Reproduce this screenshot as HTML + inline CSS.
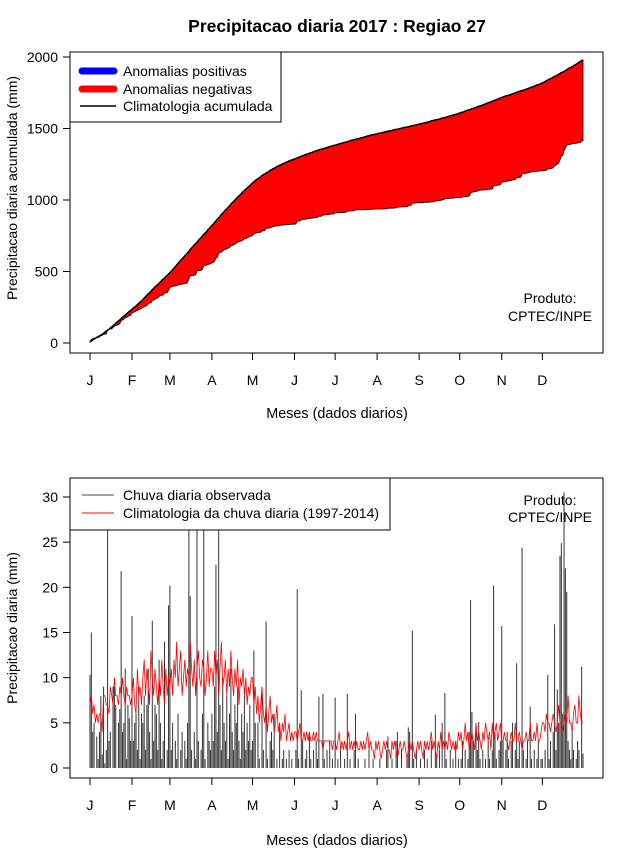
<!DOCTYPE html>
<html><head><meta charset="utf-8"><style>
body{margin:0;background:#fff;}
svg text{font-family:"Liberation Sans",sans-serif;fill:#000;}
</style></head><body>
<svg id="c" width="640" height="850" xmlns="http://www.w3.org/2000/svg"></svg>
<script>
const months=["J","F","M","A","M","J","J","A","S","O","N","D"];
const monthStartDays=[1,32,60,91,121,152,182,213,244,274,305,335];
const topTicks=[0,500,1000,1500,2000];
const botTicks=[0,5,10,15,20,25,30];
const climDaily=[
7,8,6,7,5,6,5,6,6,4,8,8,7,7,6,9,8,7,10,8,8,7,9,8,10,8,7,9,8,8,7,
8,10,7,6,11,8,9,7,10,12,8,11,9,7,13,10,8,11,9,7,10,8,12,9,7,11,8,10,
9,11,8,12,10,14,9,11,13,8,10,12,9,11,10,14,11,9,12,8,11,13,10,9,12,11,8,10,13,9,11,
11,9,13,10,12,8,11,14,9,10,12,8,11,9,13,10,8,11,9,12,7,10,9,11,8,10,7,9,8,10,
10,7,9,6,8,5,7,9,6,5,7,4,6,8,5,6,4,5,7,4,5,3,5,4,6,3,4,5,3,4,3,
4,4,3,4,5,3,3,4,3,4,3,4,3,3,4,3,4,3,3,3,3,2,3,3,3,3,3,3,2,3,
3,2,3,4,2,3,2,3,2,3,4,2,3,2,3,2,3,2,2,3,2,3,2,3,4,2,3,2,2,1,3,
2,3,2,1,2,3,2,3,2,2,1,3,2,3,2,1,2,3,2,2,3,2,1,2,3,2,3,2,1,2,3,
2,3,2,1,3,2,3,2,3,4,2,3,2,1,3,2,4,2,3,2,3,2,4,3,2,3,2,3,2,4,
3,4,2,3,5,3,4,2,3,4,3,2,5,3,4,3,2,4,3,5,4,3,4,2,5,3,4,5,3,4,5,
3,3,4,3,3,2,3,4,3,3,5,3,3,4,3,2,3,3,4,3,3,5,3,3,4,3,5,3,3,4,
5,5,4,6,5,5,4,5,6,5,4,5,7,5,5,4,5,6,5,8,5,5,4,6,7,5,5,8,6,5,5];
const obsDaily=[
10.3,15,4,5,0,3.5,1,4,8,1.5,9,0.5,2,28,3,4,0,9,9,7,0,5,6.5,21.8,4,5,11,1,7,5.5,3,
16.8,3,5,6,2,9,1,6,5,8,2,7,11,4,1,16.3,3,7,6,2,12,5,1,3,14,0,2,18,
20.2,2,5,0,3,1,6,0,2,4,0,3,1,5,28,19,2,0,4,1,28,3,0,2,6,28,1,0,5,3,2,
6,3,9,22.5,4,28,7,2,10,5,3,8,1,6,11,4,2,7,5,9,3,1,6,4,8,2,5,3,7,2,
3,13,5,0,5,1,0,9,2,0,16.2,1,0,3,4,2,6,0,1,0,5,0,1,2,0,1,0,2,0,1,0,
0,2,19.8,1,0,8.6,3,0,1,2,0,4,1,0,2,0,3,1,7.9,0,0,8.2,1,0,2,0,3,0,1,0,
7.8,0,1,0,2,0,0,1,0,8.2,0,1,0,0,2,6,0,1,0,0,0,0,1,0,0,2,0,0,1,0,0,
0,0,1,0,0,0,0,2,3.5,0,0,1,0,0,3,4,0,0,2,0,0,0,1,4.5,4,0,15.2,1,0,2,0,
0,1,0,0,2,0,1,0,0,3,0,0,5.9,1,0,2,0,5,0,8.3,1,0,0,2,0,1,0,3,0,1,
0,1,3,0,2,0,1,4,18.6,6.2,3,0,4,2,5.1,1,0,2,0,1,0,3,1,0,2,20.2,4,1,0,2,3,
15.7,3,0,2,4,1,0,3,5,0,2,11.6,1,3,0,24.4,2,0,1,3,0,6.8,1,0,2,0,1,3,0,1,
1,0,2,0,10.3,1,3,0,4,15.9,2,8.7,5,23.5,24.9,6,30.5,22.1,19.5,3,2,1,4,2,0,1,3,2,0,11.2,1.6];

const NS="http://www.w3.org/2000/svg";
const svg=document.getElementById('c');
function mk(tag,attrs,parent){const e=document.createElementNS(NS,tag);for(const k in attrs)e.setAttribute(k,attrs[k]);(parent||svg).appendChild(e);return e;}
function txt(s,x,y,size,anchor,parent){const t=mk('text',{x:x,y:y,'font-size':size,'text-anchor':anchor||'middle'},parent);t.textContent=s;return t;}
const xDay=d=>90+(d-1)*(493/364);
const yTop=v=>343-v*(286/2000);
const yBot=v=>768-v*(271/30);

const ti=txt("Precipitacao diaria 2017 : Regiao 27",337,32,17.5);
ti.setAttribute('font-weight','bold');



const climCum=[],obsCum=[];let a=0,b=0;
for(let i=0;i<climDaily.length;i++){a+=climDaily[i];b+=obsDaily[i];climCum.push(a);obsCum.push(b);}

// ---- TOP PANEL
const gT=mk('g',{});


let pts=[];
for(let i=0;i<climCum.length;i++)pts.push(xDay(i+1).toFixed(1)+","+yTop(climCum[i]).toFixed(1));
for(let i=obsCum.length-1;i>=0;i--)pts.push(xDay(i+1).toFixed(1)+","+yTop(obsCum[i]).toFixed(1));
const poly=mk('polygon',{points:pts.join(" "),fill:"#ff0000",stroke:"#000","stroke-width":0.8},gT);


let cp=[];for(let i=0;i<climCum.length;i++)cp.push(xDay(i+1).toFixed(1)+","+yTop(climCum[i]).toFixed(1));
const cl=mk('polyline',{points:cp.join(" "),fill:"none",stroke:"#000","stroke-width":1.5},gT);


mk('rect',{x:70,y:52,width:533,height:301,fill:"none",stroke:"#000","stroke-width":1},gT);
topTicks.forEach(v=>{mk('line',{x1:63,x2:70,y1:yTop(v),y2:yTop(v),stroke:"#000"},gT);
 const t=txt(String(v),58,yTop(v)+5,14,'end',gT);
 
 });
months.forEach((m,i)=>{const x=xDay(monthStartDays[i]);mk('line',{x1:x,x2:x,y1:353,y2:360,stroke:"#000"},gT);
 const t=txt(m,x,385,14,'middle',gT);
 
 });
const yl1=txt("Precipitacao diaria acumulada (mm)",0,0,14,'middle',gT);
yl1.setAttribute('transform','translate(17,188) rotate(-90)');


const xl1=txt("Meses (dados diarios)",337,418,14.4,'middle',gT);


txt("Produto:",550,303,14,'middle',gT);txt("CPTEC/INPE",550,321,14,'middle',gT);
const lg1=mk('g',{},gT);


mk('rect',{x:70,y:52,width:211,height:70,fill:"#fff",stroke:"#000"},lg1);
mk('line',{x1:82,x2:114,y1:71,y2:71,stroke:"#0000ff","stroke-width":7,"stroke-linecap":"round"},lg1);
mk('line',{x1:82,x2:114,y1:89,y2:89,stroke:"#ff0000","stroke-width":7,"stroke-linecap":"round"},lg1);
mk('line',{x1:80,x2:116,y1:106,y2:106,stroke:"#000","stroke-width":1.5},lg1);
txt("Anomalias positivas",123,76,14,'start',lg1);
txt("Anomalias negativas",123,94,14,'start',lg1);
txt("Climatologia acumulada",123,111,14,'start',lg1);

// ---- BOTTOM PANEL
const gB=mk('g',{});


mk('clipPath',{id:'cb'},gB);
mk('rect',{x:70,y:478,width:533,height:300},document.getElementById('cb'));
const bars=mk('g',{'clip-path':'url(#cb)'},gB);


for(let i=0;i<obsDaily.length;i++){
 const x=xDay(i+1);
 const l=mk('line',{x1:x,x2:x,y1:yBot(0),y2:yBot(obsDaily[i]),stroke:"#333","stroke-width":1},bars);
 
 
}
let rp=[];for(let i=0;i<climDaily.length;i++)rp.push(xDay(i+1).toFixed(1)+","+yBot(climDaily[i]).toFixed(1));
const rl=mk('polyline',{points:rp.join(" "),fill:"none",stroke:"#ff0000","stroke-width":0.8},gB);


mk('rect',{x:70,y:478,width:533,height:300,fill:"none",stroke:"#000"},gB);
botTicks.forEach(v=>{mk('line',{x1:63,x2:70,y1:yBot(v),y2:yBot(v),stroke:"#000"},gB);
 const t=txt(String(v),58,yBot(v)+5,14,'end',gB);
 
 });
months.forEach((m,i)=>{const x=xDay(monthStartDays[i]);mk('line',{x1:x,x2:x,y1:778,y2:785,stroke:"#000"},gB);
 const t=txt(m,x,810,14,'middle',gB);
 
 });
const yl2=txt("Precipitacao diaria (mm)",0,0,14,'middle',gB);
yl2.setAttribute('transform','translate(17,628) rotate(-90)');


const xl2=txt("Meses (dados diarios)",337,845,14.4,'middle',gB);


txt("Produto:",550,505,14,'middle',gB);txt("CPTEC/INPE",550,522,14,'middle',gB);
const lg2=mk('g',{},gB);


mk('rect',{x:70,y:478,width:320,height:52,fill:"#fff",stroke:"#000"},lg2);
mk('line',{x1:82,x2:114,y1:495,y2:495,stroke:"#444","stroke-width":1},lg2);
mk('line',{x1:82,x2:114,y1:513,y2:513,stroke:"#ff0000","stroke-width":1},lg2);
txt("Chuva diaria observada",123,500,14,'start',lg2);
txt("Climatologia da chuva diaria (1997-2014)",123,518,14,'start',lg2);
</script>
</body></html>
